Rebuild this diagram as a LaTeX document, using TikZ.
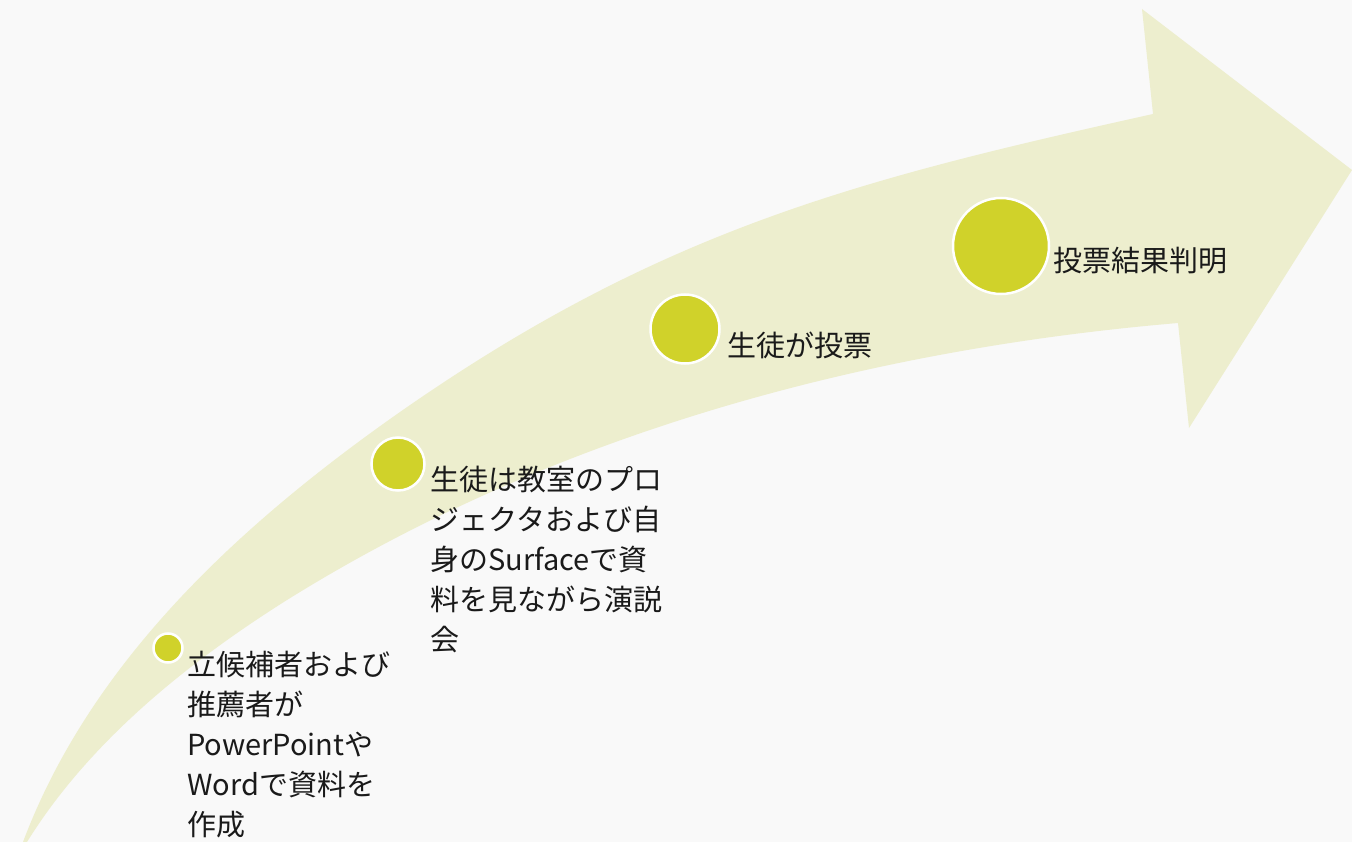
\documentclass[tikz,border=0pt]{standalone}
\usepackage{fontspec}
\newfontfamily\jpfont{Noto Sans CJK JP}
\definecolor{bgcol}{HTML}{F9F9F9}
\definecolor{arrowcol}{HTML}{EDEECE}
\definecolor{dotcol}{HTML}{D0D22A}
\definecolor{txtcol}{HTML}{1A1A1A}
\begin{document}
\begin{tikzpicture}[x=1pt,y=-1pt,
  dot/.style={circle,fill=dotcol,draw=white,line width=2.5pt,inner sep=0pt},
  lbl/.style={anchor=base west,inner sep=0pt,align=left,text=txtcol,
    font=\jpfont\fontsize{29pt}{40pt}\selectfont}]
\fill[bgcol] (0,0) rectangle (1352,842);
\useasboundingbox (0,0) rectangle (1352,842);
% big curved arrow
\fill[arrowcol] (23,842)
  .. controls (90,664) and (236,527) .. (400,412)
  .. controls (662,229) and (860,179) .. (1153,114)
  -- (1142,9) -- (1352,170) -- (1189,428) -- (1178,323)
  .. controls (860,350) and (550,436) .. (287,600)
  .. controls (187,663) and (89,742) .. (27,842)
  -- cycle;
% circles
\node[dot,minimum size=29pt] (c1) at (168,648) {};
\node[dot,minimum size=53pt] (c2) at (398,464) {};
\node[dot,minimum size=69pt] (c3) at (685,329) {};
\node[dot,minimum size=96pt] (c4) at (1001,246) {};
% labels
\node[lbl] (t1) at (187,835) {立候補者および\\推薦者が\\PowerPointや\\Wordで資料を\\作成};
\node[lbl] (t2) at (430,650) {生徒は教室のプロ\\ジェクタおよび自\\身のSurfaceで資\\料を見ながら演説\\会};
\node[lbl] (t3) at (727,356) {生徒が投票};
\node[lbl] (t4) at (1053,272) {投票結果判明};
\end{tikzpicture}
\end{document}
